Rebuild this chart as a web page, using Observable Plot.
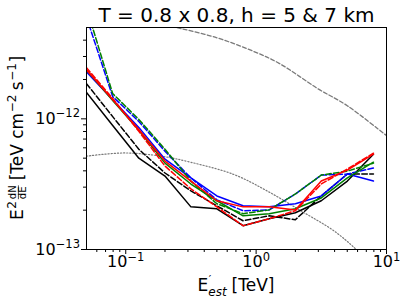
<!DOCTYPE html>
<html><head><meta charset="utf-8">
<script src="https://cdn.jsdelivr.net/npm/d3@7"></script>
<script src="https://cdn.jsdelivr.net/npm/@observablehq/plot@0.6"></script>
<style>body{margin:0;background:#fff;} svg{font-family:"DejaVu Sans";}</style>
</head><body><div id="chart"></div>
<script>
const title = "T = 0.8 x 0.8, h = 5 & 7 km";
const energy = [0.05, 0.0794, 0.126, 0.2, 0.316, 0.5, 0.794, 1.26, 2.0, 3.16, 5.01, 7.94];
const blackSolid  = [15.9e-13, 8.9e-13, 5.0e-13, 3.65e-13, 2.12e-13, 2.05e-13, 1.52e-13, 1.72e-13, 1.91e-13, 2.36e-13, 3.34e-13, 5.36e-13];
const blackDashed = [18.6e-13, 10.4e-13, 5.85e-13, 3.85e-13, 2.81e-13, 2.16e-13, 1.66e-13, 1.81e-13, 1.69e-13, 2.57e-13, 3.78e-13, 3.78e-13];
const blueSolid   = [22.9e-13, 14.0e-13, 8.6e-13, 4.91e-13, 3.53e-13, 2.57e-13, 2.16e-13, 2.12e-13, 2.24e-13, 2.57e-13, 3.78e-13, 3.34e-13];
const blueDashed  = [60e-13, 14.8e-13, 9.55e-13, 5.65e-13, 3.53e-13, 2.40e-13, 1.98e-13, 2.01e-13, 2.66e-13, 3.71e-13, 3.78e-13, 4.2e-13];
const greenSolid  = [23.7e-13, 13.8e-13, 8.16e-13, 4.58e-13, 3.17e-13, 2.36e-13, 1.81e-13, 1.88e-13, 2.05e-13, 2.48e-13, 3.53e-13, 4.66e-13];
const greenDashed = [71e-13, 15.6e-13, 9.9e-13, 5.85e-13, 3.34e-13, 2.24e-13, 1.88e-13, 2.01e-13, 2.66e-13, 3.71e-13, 3.98e-13, 4.58e-13];
const redSolid    = [23.7e-13, 14.0e-13, 8.3e-13, 4.75e-13, 3.34e-13, 2.36e-13, 2.12e-13, 2.12e-13, 2.01e-13, 3.34e-13, 4.05e-13, 5.36e-13];
const redDashed   = [24.6e-13, 14.3e-13, 8.02e-13, 4.35e-13, 2.91e-13, 2.12e-13, 1.52e-13, 1.72e-13, 1.98e-13, 3.17e-13, 4.13e-13, 5.46e-13];

const crabE = [0.2, 0.27, 0.5, 0.91, 1.5, 2.95, 5.0, 9.8, 10.5];
const crabV = [5.25e-12, 4.89e-12, 4.17e-12, 3.35e-12, 2.66e-12, 1.71e-12, 1.26e-12, 7.57e-13, 7.2e-13];
const dotE = [0.05, 0.0977, 0.187, 0.316, 0.675, 1.22, 2.2, 3.95, 5.62, 6.3];
const dotV = [5.18e-13, 5.48e-13, 5.18e-13, 4.65e-13, 3.75e-13, 2.80e-13, 1.98e-13, 1.39e-13, 1.04e-13, 0.93e-13];

const xMajor = [0.1, 1, 10];
const xMajorLabels = ["10⁻¹", "10⁰", "10¹"];
const xMinor = [0.06,0.07,0.08,0.09,0.2,0.3,0.4,0.5,0.6,0.7,0.8,0.9,2,3,4,5,6,7,8,9];
const yMajor = [1e-13, 1e-12];
const yMajorLabels = ["10⁻¹³", "10⁻¹²"];
const yMinor = [2e-13,3e-13,4e-13,5e-13,6e-13,7e-13,8e-13,9e-13,2e-12,3e-12,4e-12];

const series = [
  {v: blackSolid, color: "black", dash: null},
  {v: blackDashed, color: "black", dash: "5.5,2.4"},
  {v: blueSolid, color: "#0000ff", dash: null},
  {v: blueDashed, color: "#0000ff", dash: "5.5,2.4"},
  {v: greenSolid, color: "#008000", dash: null},
  {v: greenDashed, color: "#008000", dash: "5.5,2.4"},
  {v: redSolid, color: "#ff0000", dash: null},
  {v: redDashed, color: "#ff0000", dash: "5.5,2.4"}
];

const lineMarks = series.map(s => Plot.line(energy.map((e, i) => ({E: e, F: s.v[i]})), {
  x: "E", y: "F", stroke: s.color, strokeWidth: 1.5, strokeDasharray: s.dash, clip: true
}));

const chart = Plot.plot({
  width: 407, height: 300,
  marginLeft: 86, marginRight: 21, marginTop: 27, marginBottom: 51,
  style: {fontFamily: "DejaVu Sans", fontSize: "16px", background: "white", color: "black"},
  x: {type: "log", domain: [0.05, 10]},
  y: {type: "log", domain: [1e-13, 5e-12]},
  marks: [
    Plot.line(crabE.map((e, i) => ({E: e, F: crabV[i]})), {x: "E", y: "F", stroke: "#7a7a7a", strokeWidth: 1.3, strokeDasharray: "4,2.2", curve: "catmull-rom", clip: true}),
    Plot.line(dotE.map((e, i) => ({E: e, F: dotV[i]})), {x: "E", y: "F", stroke: "#7a7a7a", strokeWidth: 1.2, strokeDasharray: "1.2,1.9", curve: "catmull-rom", clip: true}),
    ...lineMarks,
    Plot.frame({stroke: "black", strokeWidth: 1}),
    Plot.axisX({ticks: xMinor, tickSize: 3, tickFormat: () => "", label: null}),
    Plot.axisX({ticks: xMajor, tickSize: 5, tickPadding: 1.5, tickFormat: d => xMajorLabels[xMajor.indexOf(d)], label: null, fontSize: 16}),
    Plot.axisY({ticks: yMinor, tickSize: 3, tickFormat: () => "", label: null}),
    Plot.axisY({ticks: yMajor, tickSize: 5, tickPadding: 1.5, tickFormat: d => yMajorLabels[yMajor.indexOf(d)], label: null, fontSize: 16}),
    Plot.text([title], {frameAnchor: "top", dy: -5.3, fontSize: 20, fill: "black", lineAnchor: "bottom", text: d => d})
  ]
});
document.getElementById("chart").appendChild(chart);

const svg = d3.select(chart);
// superscript exponents in tick labels
const supMap = {"⁻": "−", "⁰": "0", "¹": "1", "²": "2", "³": "3"};
svg.selectAll('g[aria-label="x-axis tick label"] text, g[aria-label="y-axis tick label"] text').each(function() {
  const s = this.textContent;
  if (!s || s.length < 3) return;
  const exp = [...s.slice(2)].map(c => supMap[c] || c).join("");
  this.textContent = "10";
  d3.select(this).append("tspan").attr("dy", -6.5).attr("font-size", 11.5).text(exp);
});

function addText(g, str, x, y, size, italic) {
  const t = g.append("text").attr("x", x).attr("y", y).attr("font-size", size)
    .attr("fill", "black").attr("text-anchor", "start").style("white-space", "pre").text(str);
  if (italic) t.attr("font-style", "italic");
  return t.node().getComputedTextLength();
}

// y label
const gy0 = svg.append("g").attr("transform", "translate(23,138) rotate(-90)");
const gy = gy0.append("g");
let x = 0;
x += addText(gy, "E", x, 0, 17);
x += addText(gy, "2", x + 0.5, -7, 12) + 2.5;
const wN = addText(gy, "dN", x, -6.8, 10);
const wD = addText(gy, "dE", x, 3.3, 10);
const wf = Math.max(wN, wD);
gy.append("line").attr("x1", x).attr("x2", x + wf).attr("y1", -4.6).attr("y2", -4.6).attr("stroke", "black").attr("stroke-width", 0.7);
x += wf + 5;
x += addText(gy, "[TeV cm", x, 0, 17);
x += addText(gy, "−2", x + 0.5, -7, 12) + 5;
x += addText(gy, "s", x, 0, 17);
x += addText(gy, "−1", x + 0.5, -7, 12) + 1;
x += addText(gy, "]", x, 0, 17);
gy.attr("transform", `translate(${-x / 2},0)`);

// x label
const gx0 = svg.append("g").attr("transform", "translate(236,291)");
const gx = gx0.append("g");
let xx = 0;
xx += addText(gx, "E", xx, 0, 17);
const wp = addText(gx, "′", xx + 0.5, -8.5, 11);
const ws = addText(gx, "est", xx, 4.5, 12, true);
xx += Math.max(wp, ws) + 5;
xx += addText(gx, "[TeV]", xx, 0, 17);
gx.attr("transform", `translate(${-xx / 2},0)`);
</script>
</body></html>
